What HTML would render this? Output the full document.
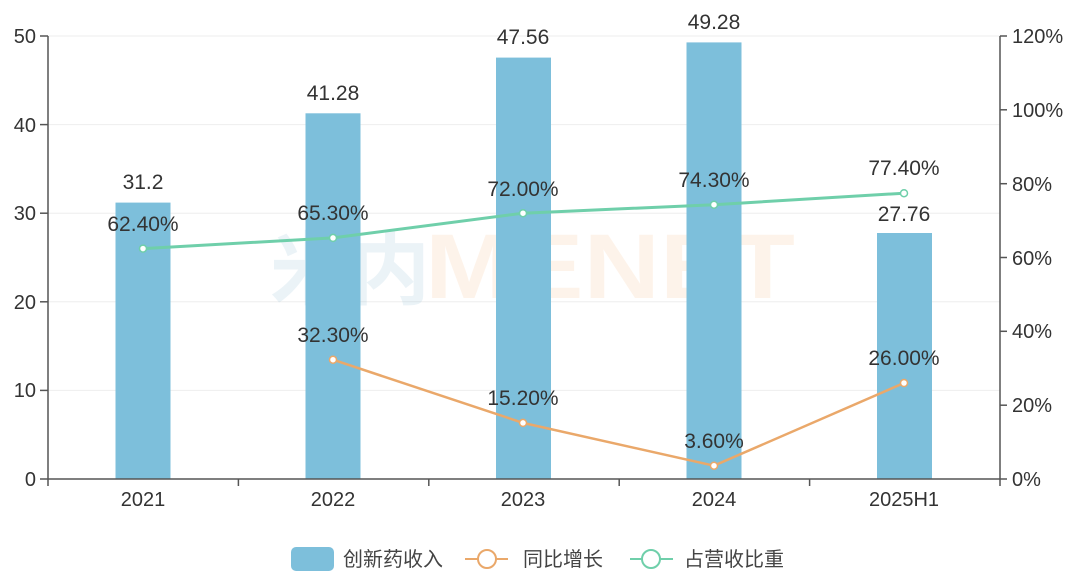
<!DOCTYPE html>
<html><head><meta charset="utf-8"><style>
html,body{margin:0;padding:0;background:#fff;}
svg{display:block;font-family:"Liberation Sans","Noto Sans CJK SC",sans-serif;}
</style></head><body>
<svg width="1080" height="579" viewBox="0 0 1080 579">
<g stroke="#eeeeee" stroke-width="1">
<line x1="48" x2="1000" y1="36" y2="36"/><line x1="48" x2="1000" y1="124.6" y2="124.6"/>
<line x1="48" x2="1000" y1="213.2" y2="213.2"/><line x1="48" x2="1000" y1="301.8" y2="301.8"/>
<line x1="48" x2="1000" y1="390.4" y2="390.4"/>
</g>
<text x="610" y="298" font-size="92" font-weight="bold" fill="#f5a35a" opacity="0.12" text-anchor="middle" textLength="370" lengthAdjust="spacingAndGlyphs">MENET</text>
<text x="350" y="298" font-size="80" font-weight="bold" fill="#7fb5cf" opacity="0.15" text-anchor="middle">米内</text>
<g fill="#7dbfdb">
<rect x="115.5" y="202.6" width="55" height="276.4"/>
<rect x="305.5" y="113.3" width="55" height="365.7"/>
<rect x="496" y="57.6" width="55" height="421.4"/>
<rect x="686.5" y="42.4" width="55" height="436.6"/>
<rect x="877" y="233" width="55" height="246"/>
</g>
<g stroke="#555" stroke-width="1.5" fill="none">
<line x1="48" y1="36" x2="48" y2="486"/>
<line x1="1000" y1="36" x2="1000" y2="486"/>
<line x1="40" y1="479" x2="1000" y2="479"/>
<line x1="40" y1="36" x2="48" y2="36"/><line x1="40" y1="124.6" x2="48" y2="124.6"/>
<line x1="40" y1="213.2" x2="48" y2="213.2"/><line x1="40" y1="301.8" x2="48" y2="301.8"/>
<line x1="40" y1="390.4" x2="48" y2="390.4"/>
<line x1="1000" y1="36" x2="1007" y2="36"/><line x1="1000" y1="109.8" x2="1007" y2="109.8"/>
<line x1="1000" y1="183.7" x2="1007" y2="183.7"/><line x1="1000" y1="257.5" x2="1007" y2="257.5"/>
<line x1="1000" y1="331.3" x2="1007" y2="331.3"/><line x1="1000" y1="405.2" x2="1007" y2="405.2"/>
<line x1="1000" y1="479" x2="1007" y2="479"/>
<line x1="238.4" y1="479" x2="238.4" y2="486"/><line x1="428.8" y1="479" x2="428.8" y2="486"/>
<line x1="619.2" y1="479" x2="619.2" y2="486"/><line x1="809.6" y1="479" x2="809.6" y2="486"/>
</g>
<g font-size="20" fill="#333" text-anchor="end">
<text x="36" y="43">50</text><text x="36" y="132">40</text><text x="36" y="220">30</text>
<text x="36" y="309">20</text><text x="36" y="397">10</text><text x="36" y="486">0</text>
</g>
<g font-size="20" fill="#333" text-anchor="start">
<text x="1012" y="43">120%</text><text x="1012" y="117">100%</text><text x="1012" y="191">80%</text>
<text x="1012" y="265">60%</text><text x="1012" y="338">40%</text><text x="1012" y="412">20%</text>
<text x="1012" y="486">0%</text>
</g>
<g font-size="20" fill="#333" text-anchor="middle">
<text x="143" y="506">2021</text><text x="333" y="506">2022</text><text x="523" y="506">2023</text>
<text x="714" y="506">2024</text><text x="904" y="506">2025H1</text>
</g>
<polyline points="143,248.6 333,237.9 523,213.2 714,204.7 904,193.2" fill="none" stroke="#6fcfaa" stroke-width="3"/>
<polyline points="333,359.7 523,422.9 714,465.7 904,383" fill="none" stroke="#eaa86a" stroke-width="2.5"/>
<g fill="#fff" stroke-width="1.5">
<circle cx="143" cy="248.6" r="3.5" stroke="#6fcfaa"/><circle cx="333" cy="237.9" r="3.5" stroke="#6fcfaa"/>
<circle cx="523" cy="213.2" r="3.5" stroke="#6fcfaa"/><circle cx="714" cy="204.7" r="3.5" stroke="#6fcfaa"/>
<circle cx="904" cy="193.2" r="3.5" stroke="#6fcfaa"/>
<circle cx="333" cy="359.7" r="3.5" stroke="#eaa86a"/><circle cx="523" cy="422.9" r="3.5" stroke="#eaa86a"/>
<circle cx="714" cy="465.7" r="3.5" stroke="#eaa86a"/><circle cx="904" cy="383" r="3.5" stroke="#eaa86a"/>
</g>
<g font-size="21" fill="#333" text-anchor="middle">
<text x="143" y="189">31.2</text><text x="333" y="100">41.28</text><text x="523" y="44">47.56</text>
<text x="714" y="29">49.28</text><text x="904" y="221">27.76</text>
<text x="143" y="231">62.40%</text><text x="333" y="220">65.30%</text><text x="523" y="196">72.00%</text>
<text x="714" y="187">74.30%</text><text x="904" y="175">77.40%</text>
<text x="333" y="342">32.30%</text><text x="523" y="405">15.20%</text><text x="714" y="448">3.60%</text>
<text x="904" y="365">26.00%</text>
</g>
<rect x="291" y="547" width="43" height="24" rx="5" fill="#7dbfdb"/>
<text x="343" y="566" font-size="20" fill="#444">创新药收入</text>
<line x1="465" y1="559" x2="508" y2="559" stroke="#eaa86a" stroke-width="2"/>
<circle cx="487" cy="559" r="9" fill="#fff" stroke="#eaa86a" stroke-width="2"/>
<text x="523" y="566" font-size="20" fill="#444">同比增长</text>
<line x1="630" y1="559" x2="673" y2="559" stroke="#6fcfaa" stroke-width="2"/>
<circle cx="651" cy="559" r="9" fill="#fff" stroke="#6fcfaa" stroke-width="2"/>
<text x="684" y="566" font-size="20" fill="#444">占营收比重</text>
</svg>
</body></html>
